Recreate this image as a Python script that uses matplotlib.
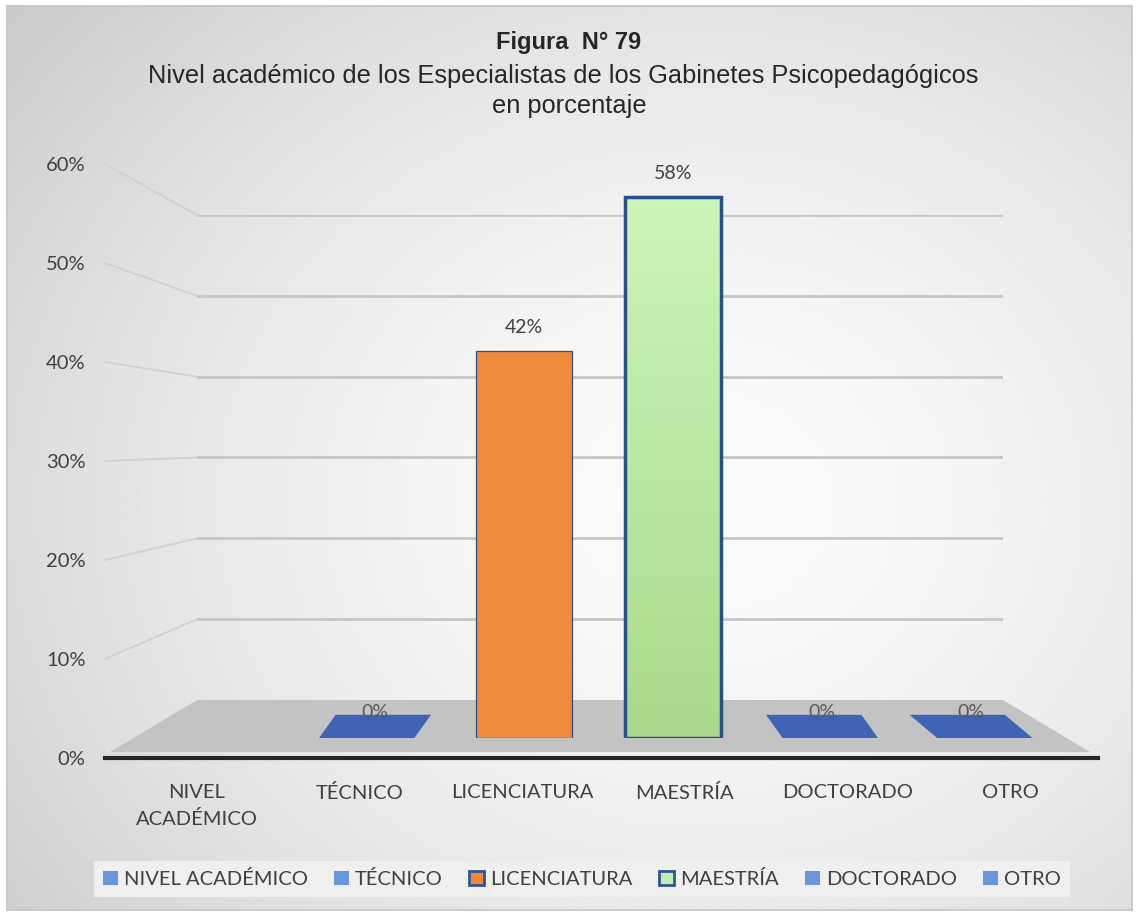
import numpy as np
import matplotlib
matplotlib.use('Agg')
from matplotlib import pyplot as plt
from matplotlib.patches import Patch, Polygon, ConnectionPatch

categories = ['NIVEL ACADÉMICO', 'TÉCNICO', 'LICENCIATURA', 'MAESTRÍA', 'DOCTORADO', 'OTRO']
tick_labels = ['NIVEL\nACADÉMICO', 'TÉCNICO', 'LICENCIATURA', 'MAESTRÍA', 'DOCTORADO', 'OTRO']
values = [np.nan, 0, 41.67, 58.33, 0, 0]
yticks = [0, 10, 20, 30, 40, 50, 60]
bar_colors = ['#3F64B5', '#3F64B5', '#F08A3B', '#C4EEAE', '#3F64B5', '#3F64B5']
legend_face = ['#6A94DC', '#6A94DC', '#F08A3B', '#C4EEAE', '#6A94DC', '#6A94DC']
legend_edge = ['#6A94DC', '#6A94DC', '#2F5597', '#2F5597', '#6A94DC', '#6A94DC']

W, H = 1138, 915
LBL = ['Lato', 'DejaVu Sans']
TTL = ['Liberation Sans', 'DejaVu Sans']
TXT = '#404040'


def box(x0, y0, x1, y1):
    # pixel box, top-left origin -> figure fraction
    return [x0 / W, 1 - y1 / H, (x1 - x0) / W, (y1 - y0) / H]


fig = plt.figure(figsize=(W / 100, H / 100), dpi=100)
fig.patch.set_facecolor('white')

# background panel with soft gradient
bg = fig.add_axes(box(7, 6, 1132, 910), zorder=0)
yy, xx = np.mgrid[0:1:300j, 0:1:400j]
r = np.sqrt(((xx - 0.62) / 0.8) ** 2 + ((yy - 0.55) / 0.85) ** 2)
grad = 0.985 - 0.19 * np.clip(r, 0, 1) ** 1.6
bg.imshow(grad, cmap='gray', vmin=0, vmax=1, aspect='auto', extent=[0, 1, 0, 1],
          interpolation='bilinear')
bg.set_xticks([])
bg.set_yticks([])
for s in bg.spines.values():
    s.set_color('#c4c4c4')
    s.set_linewidth(1.2)

# back wall with gridlines
ax_b = fig.add_axes(box(197, 215, 1003, 700), zorder=1)
ax_b.set_facecolor('none')
ax_b.set_xlim(0, 1)
ax_b.set_ylim(0, 60)
ax_b.set_yticks(yticks[1:])
ax_b.set_xticks([])
ax_b.tick_params(length=0, labelleft=False)
ax_b.grid(axis='y', color='#c6c6c6', lw=2)
for s in ax_b.spines.values():
    s.set_visible(False)

# front plane: value axis labels and category labels
ax_f = fig.add_axes(box(105, 164, 1098, 758), zorder=2)
ax_f.set_facecolor('none')
x = np.arange(len(categories))
ax_f.set_xlim(-0.566, 5.54)
ax_f.set_ylim(0, 60)
ax_f.set_yticks(yticks)
ax_f.set_yticklabels([f'{t}%' for t in yticks], family=LBL)
ax_f.set_xticks(x)
ax_f.set_xticklabels(tick_labels, family=LBL, linespacing=1.6)
ax_f.tick_params(axis='y', length=0, labelsize=14.5, labelcolor=TXT, pad=14)
ax_f.tick_params(axis='x', length=0, labelsize=14.5, labelcolor=TXT, pad=19)
for k, s in ax_f.spines.items():
    s.set_visible(k == 'bottom')
ax_f.spines['bottom'].set_color('#262626')
ax_f.spines['bottom'].set_linewidth(3)

# side wall lines joining front labels to back gridlines
for v in yticks[1:]:
    fig.add_artist(ConnectionPatch(xyA=(0, v), coordsA=ax_f.get_yaxis_transform(),
                                   xyB=(0, v), coordsB=ax_b.get_yaxis_transform(),
                                   color='#d0d0d0', lw=1.3, zorder=1.2))

# floor
to_fig = lambda ax, pt: fig.transFigure.inverted().transform(ax.transAxes.transform(pt))
floor = [to_fig(ax_b, (0, 0)), to_fig(ax_b, (1, 0)),
         to_fig(ax_f, (0.992, 0.01)), to_fig(ax_f, (0.005, 0.01))]
fig.add_artist(Polygon(floor, closed=True, transform=fig.transFigure,
                       facecolor='#c3c3c3', edgecolor='none', zorder=1.5))

# bars
ax_bar = fig.add_axes(box(151.5, 738 - 60 * 9.28, 1045.5, 738), zorder=3)
ax_bar.set_xlim(-0.5, 5.5)
ax_bar.set_ylim(0, 60)
ax_bar.axis('off')

bw = 0.64
depth = 2.5
for i, v in enumerate(values):
    if np.isnan(v):
        continue
    if v == 0:
        sk = 0.074 * (2.5 - i)
        tile = [(i - bw / 2 - sk / 2, 0), (i + bw / 2 - sk / 2, 0),
                (i + bw / 2 + sk / 2, depth), (i - bw / 2 + sk / 2, depth)]
        ax_bar.add_patch(Polygon(tile, closed=True, facecolor=bar_colors[i],
                                 edgecolor='none'))
        ax_bar.text(i, depth + 0.2, '0%', ha='center', va='center', fontsize=14,
                    color='#5a5a5a', family=LBL)
        continue
    if i == 3:
        b = ax_bar.bar(i, v, width=bw, color=bar_colors[i], edgecolor='#2A4F8F', lw=2.5)[0]
        g = np.linspace(0, 1, 100).reshape(-1, 1)
        cols = np.array([0.80, 0.96, 0.72]) * (1 - g[..., None]) + np.array([0.66, 0.85, 0.55]) * g[..., None]
        im = ax_bar.imshow(cols, extent=[i - bw / 2, i + bw / 2, 0, v], aspect='auto',
                           interpolation='bilinear', zorder=b.get_zorder() - 0.1)
        im.set_clip_path(b)
        b.set_facecolor('none')
    else:
        ax_bar.bar(i, v, width=bw, color=bar_colors[i], edgecolor='#2F4F80', lw=0.9)
    ax_bar.annotate(f'{v:.0f}%', xy=(i, v), xytext=(0, 17), textcoords='offset points',
                    ha='center', va='center', fontsize=14, color=TXT, family=LBL)
ax_bar.set_xlim(-0.5, 5.5)
ax_bar.set_ylim(0, 60)

# title
fig.text(569 / W, 1 - 43 / H, 'Figura  N° 79', ha='center', va='center',
         fontsize=17, fontweight='bold', color='#262626', family=TTL)
fig.text(563 / W, 1 - 76 / H, 'Nivel académico de los Especialistas de los Gabinetes Psicopedagógicos',
         ha='center', va='center', fontsize=18.3, color='#262626', family=TTL)
fig.text(569 / W, 1 - 106 / H, 'en porcentaje', ha='center', va='center',
         fontsize=18.3, color='#262626', family=TTL)

# legend
handles = [Patch(facecolor=legend_face[i], edgecolor=legend_edge[i], lw=2 if i in (2, 3) else 0)
           for i in range(len(categories))]
leg = fig.legend(handles, categories, loc='center', bbox_to_anchor=(582 / W, 1 - 879 / H),
                 ncol=6, frameon=True, fancybox=False, facecolor='#efefef', edgecolor='none',
                 framealpha=1, prop={'family': LBL, 'size': 14.5}, labelcolor=TXT,
                 handlelength=0.75, handleheight=0.75, handletextpad=0.3,
                 columnspacing=1.3, borderpad=0.45)

fig.savefig('out.png', dpi=100, facecolor=fig.get_facecolor())
